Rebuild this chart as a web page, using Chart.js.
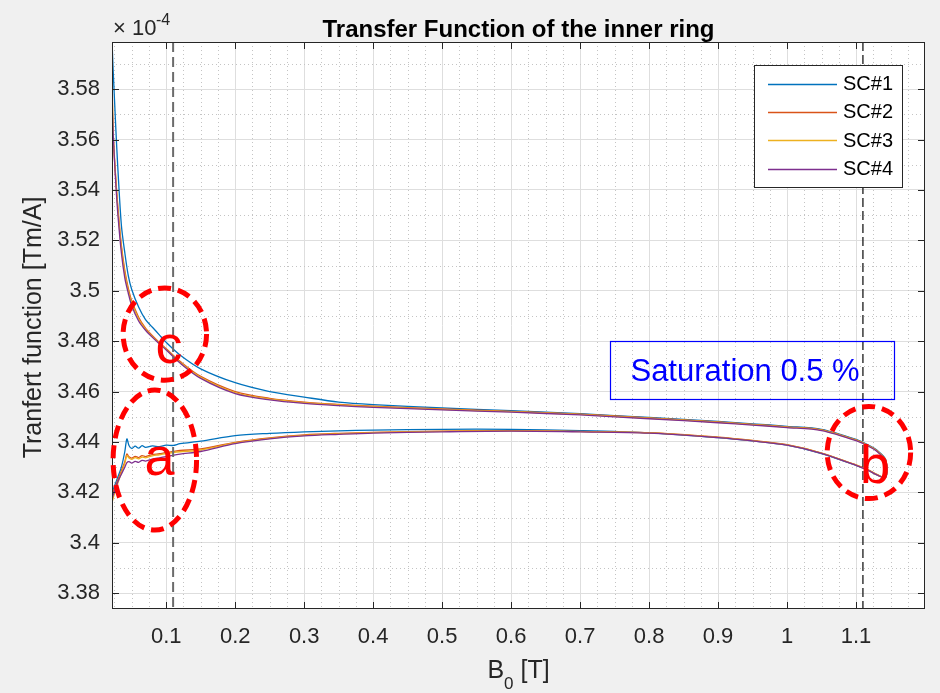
<!DOCTYPE html>
<html><head><meta charset="utf-8">
<script src="https://cdn.jsdelivr.net/npm/chart.js@4.4.1/dist/chart.umd.min.js"></script>
<style>html,body{margin:0;padding:0;background:#f0f0f0;overflow:hidden}</style>
</head><body>
<canvas id="c" width="940" height="693"></canvas>
<script>
// ---------- data (values in units of 1e-4 Tm/A) ----------
const seriesNames  = ['SC#1', 'SC#2', 'SC#3', 'SC#4'];
const seriesColors = ['#0072BD', '#D95319', '#EDB120', '#7E2F8E'];

const xTickValues = [0.1, 0.2, 0.3, 0.4, 0.5, 0.6, 0.7, 0.8, 0.9, 1.0, 1.1];
const yTickValues = [3.38, 3.40, 3.42, 3.44, 3.46, 3.48, 3.50, 3.52, 3.54, 3.56, 3.58];

// ramp-up (lower branch) field values [T]
const xRampUp = [0.0215, 0.025, 0.03, 0.035, 0.04, 0.043, 0.046, 0.05, 0.055, 0.06, 0.065, 0.07, 0.08, 0.09, 0.1, 0.11, 0.12, 0.15, 0.2, 0.25, 0.3, 0.35, 0.4, 0.5, 0.6, 0.7, 0.8, 0.9, 0.95, 1.0, 1.05, 1.1, 1.12, 1.13, 1.143];
// ramp-down (upper branch) field values [T]
const xRampDown = [1.143, 1.13, 1.12, 1.1, 1.05, 1.0, 0.95, 0.9, 0.8, 0.7, 0.6, 0.5, 0.4, 0.35, 0.3, 0.25, 0.2, 0.15, 0.12, 0.1, 0.09, 0.08, 0.07, 0.06, 0.05, 0.045, 0.04, 0.035, 0.03, 0.027, 0.025, 0.023, 0.0215];

const sc1Up = [3.4200, 3.4225, 3.4262, 3.4300, 3.4362, 3.4412, 3.4386, 3.4374, 3.4383, 3.4375, 3.4385, 3.4378, 3.4384, 3.4381, 3.4387, 3.4386, 3.4393, 3.4403, 3.4425, 3.4434, 3.4440, 3.4444, 3.4447, 3.4450, 3.4450, 3.4445, 3.4436, 3.4417, 3.4404, 3.4387, 3.4354, 3.4307, 3.4284, 3.4270, 3.4259];
const sc2Up = [3.4185, 3.4215, 3.4250, 3.4285, 3.4322, 3.4352, 3.4341, 3.4336, 3.4343, 3.4338, 3.4346, 3.4342, 3.4350, 3.4353, 3.4358, 3.4362, 3.4366, 3.4372, 3.4398, 3.4416, 3.4428, 3.4434, 3.4438, 3.4443, 3.4445, 3.4442, 3.4437, 3.4419, 3.4406, 3.4389, 3.4356, 3.4309, 3.4286, 3.4271, 3.4261];
const sc3Up = [3.4160, 3.4195, 3.4238, 3.4278, 3.4315, 3.4346, 3.4336, 3.4331, 3.4338, 3.4333, 3.4340, 3.4337, 3.4345, 3.4349, 3.4354, 3.4358, 3.4361, 3.4368, 3.4396, 3.4414, 3.4426, 3.4432, 3.4437, 3.4442, 3.4444, 3.4441, 3.4436, 3.4418, 3.4405, 3.4388, 3.4356, 3.4308, 3.4285, 3.4270, 3.4260];
const sc4Up = [3.4175, 3.4205, 3.4243, 3.4272, 3.4300, 3.4318, 3.4322, 3.4316, 3.4323, 3.4319, 3.4327, 3.4324, 3.4332, 3.4337, 3.4342, 3.4347, 3.4352, 3.4362, 3.4393, 3.4412, 3.4424, 3.4430, 3.4435, 3.4440, 3.4443, 3.4440, 3.4435, 3.4417, 3.4404, 3.4387, 3.4355, 3.4307, 3.4284, 3.4269, 3.4259];

const sc1Down = [3.4330, 3.4368, 3.4385, 3.4410, 3.4450, 3.4462, 3.4472, 3.4481, 3.4497, 3.4512, 3.4524, 3.4535, 3.4548, 3.4558, 3.4578, 3.4600, 3.4635, 3.4690, 3.4745, 3.4795, 3.4825, 3.4855, 3.4885, 3.4935, 3.5005, 3.5060, 3.5150, 3.5260, 3.5480, 3.5640, 3.5760, 3.5880, 3.5987];
const sc2Down = [3.4328, 3.4366, 3.4383, 3.4408, 3.4448, 3.4460, 3.4470, 3.4479, 3.4495, 3.4510, 3.4521, 3.4531, 3.4542, 3.4549, 3.4558, 3.4573, 3.4600, 3.4660, 3.4720, 3.4770, 3.4795, 3.4822, 3.4852, 3.4895, 3.4960, 3.5010, 3.5080, 3.5180, 3.5330, 3.5440, 3.5520, 3.5620, 3.5860];
const sc3Down = [3.4327, 3.4365, 3.4382, 3.4407, 3.4447, 3.4459, 3.4469, 3.4478, 3.4494, 3.4509, 3.4520, 3.4529, 3.4540, 3.4547, 3.4556, 3.4570, 3.4596, 3.4656, 3.4716, 3.4767, 3.4792, 3.4818, 3.4848, 3.4888, 3.4952, 3.5000, 3.5070, 3.5170, 3.5320, 3.5440, 3.5530, 3.5640, 3.5796];
const sc4Down = [3.4325, 3.4363, 3.4380, 3.4405, 3.4445, 3.4457, 3.4467, 3.4476, 3.4492, 3.4507, 3.4518, 3.4527, 3.4537, 3.4544, 3.4553, 3.4567, 3.4592, 3.4652, 3.4713, 3.4765, 3.4790, 3.4815, 3.4843, 3.4880, 3.4940, 3.4990, 3.5050, 3.5150, 3.5300, 3.5420, 3.5520, 3.5630, 3.5744];

const seriesUp   = [sc1Up, sc2Up, sc3Up, sc4Up];
const seriesDown = [sc1Down, sc2Down, sc3Down, sc4Down];

// reference lines and annotations (data units)
const refLines = [0.11, 1.11];
const markers = [
  {letter: 'c', cx: 0.098, cy: 3.4828, rx: 0.0605, ry: 0.0183, tx: 0.104, ty: 3.4713},
  {letter: 'a', cx: 0.0835, cy: 3.4328, rx: 0.0605, ry: 0.0278, tx: 0.0903, ty: 3.4268},
  {letter: 'b', cx: 1.1187, cy: 3.4358, rx: 0.0605, ry: 0.0183, tx: 1.1276, ty: 3.4237}
];
const noteText = 'Saturation 0.5 %';
const noteBox = {x0: 0.744, x1: 1.1558, y0: 3.457, y1: 3.48};

const FONT = "'Liberation Sans', Arial, Helvetica, sans-serif";
const TXT = '#262626';

// ---------- datasets ----------
const datasets = seriesNames.map((name, k) => ({
  label: name,
  data: xRampUp.map((x, i) => ({x: x, y: seriesUp[k][i]}))
        .concat(xRampDown.map((x, i) => ({x: x, y: seriesDown[k][i]}))),
  borderColor: seriesColors[k],
  backgroundColor: seriesColors[k],
  borderWidth: 1.3,
  showLine: true,
  pointRadius: 0,
  tension: 0.3,
  order: 4 - k
}));

const fmt = v => String(Number(v.toFixed(2)));

const decor = {
  id: 'decor',
  beforeDraw(chart) {
    const {ctx, chartArea: a} = chart;
    ctx.save();
    ctx.fillStyle = '#f0f0f0';
    ctx.fillRect(0, 0, chart.width, chart.height);
    ctx.fillStyle = '#ffffff';
    ctx.fillRect(a.left, a.top, a.right - a.left, a.bottom - a.top);
    ctx.restore();
  },
  beforeDatasetsDraw(chart) {
    const {ctx, chartArea: a, scales: {x, y}} = chart;
    ctx.save();
    ctx.beginPath(); ctx.rect(a.left, a.top, a.right - a.left, a.bottom - a.top); ctx.clip();
    ctx.strokeStyle = '#c4c4c4';
    ctx.lineWidth = 1;
    ctx.setLineDash([1, 3]);
    for (let v = 0.025; v < x.max; v += 0.025) {
      if (Math.abs(v * 10 - Math.round(v * 10)) < 1e-6) continue;
      const p = Math.round(x.getPixelForValue(v)) + 0.5;
      ctx.beginPath(); ctx.moveTo(p, a.top); ctx.lineTo(p, a.bottom); ctx.stroke();
    }
    for (let v = 3.37; v < y.max; v += 0.02) {
      const p = Math.round(y.getPixelForValue(v)) + 0.5;
      ctx.beginPath(); ctx.moveTo(a.left, p); ctx.lineTo(a.right, p); ctx.stroke();
    }
    ctx.restore();
  },
  afterDatasetsDraw(chart) {
    const {ctx, chartArea: a, scales: {x, y}} = chart;
    ctx.save();
    // reference dashed lines
    refLines.forEach((v, i) => {
      const p = x.getPixelForValue(v);
      ctx.beginPath();
      ctx.setLineDash(i === 0 ? [10, 5] : [9, 4]);
      ctx.strokeStyle = i === 0 ? '#6b6b6b' : '#2b2b2b';
      ctx.lineWidth = i === 0 ? 2 : 1.4;
      ctx.moveTo(p, a.top); ctx.lineTo(p, a.bottom); ctx.stroke();
    });
    ctx.setLineDash([]);
    // axes box
    ctx.strokeStyle = TXT; ctx.lineWidth = 1;
    ctx.strokeRect(a.left + 0.5, a.top + 0.5, a.right - a.left - 1, a.bottom - a.top - 1);
    // inward ticks
    const tl = 7;
    ctx.beginPath();
    xTickValues.forEach(v => {
      const p = Math.round(x.getPixelForValue(v)) + 0.5;
      ctx.moveTo(p, a.bottom); ctx.lineTo(p, a.bottom - tl);
      ctx.moveTo(p, a.top); ctx.lineTo(p, a.top + tl);
    });
    yTickValues.forEach(v => {
      const p = Math.round(y.getPixelForValue(v)) + 0.5;
      ctx.moveTo(a.left, p); ctx.lineTo(a.left + tl, p);
      ctx.moveTo(a.right, p); ctx.lineTo(a.right - tl, p);
    });
    ctx.stroke();

    // annotation box
    const bx0 = x.getPixelForValue(noteBox.x0), bx1 = x.getPixelForValue(noteBox.x1);
    const by0 = y.getPixelForValue(noteBox.y1), by1 = y.getPixelForValue(noteBox.y0);
    ctx.strokeStyle = '#0000ff'; ctx.lineWidth = 1.2;
    ctx.strokeRect(Math.round(bx0) + 0.5, Math.round(by0) + 0.5, Math.round(bx1 - bx0), Math.round(by1 - by0));
    ctx.fillStyle = '#0000ff';
    ctx.font = '31px ' + FONT;
    ctx.textAlign = 'left'; ctx.textBaseline = 'alphabetic';
    ctx.fillText(noteText, bx0 + 20, by0 + 40);

    // red dashed ellipses + letters
    markers.forEach(m => {
      const cx = x.getPixelForValue(m.cx), cy = y.getPixelForValue(m.cy);
      const rx = Math.abs(x.getPixelForValue(m.cx + m.rx) - cx);
      const ry = Math.abs(y.getPixelForValue(m.cy + m.ry) - cy);
      ctx.beginPath();
      ctx.setLineDash([13, 7]);
      ctx.strokeStyle = '#ff0000'; ctx.lineWidth = 5;
      ctx.ellipse(cx, cy, rx, ry, 0, 0, Math.PI * 2);
      ctx.stroke();
      ctx.setLineDash([]);
      ctx.fillStyle = '#ff0000';
      ctx.font = '54px ' + FONT;
      ctx.textAlign = 'center'; ctx.textBaseline = 'alphabetic';
      ctx.fillText(m.letter, x.getPixelForValue(m.tx), y.getPixelForValue(m.ty));
    });

    // legend
    const lw = 148, lh = 122;
    const lx = a.right - 23 - lw, ly = a.top + 23;
    ctx.fillStyle = '#ffffff';
    ctx.fillRect(lx, ly, lw, lh);
    ctx.strokeStyle = TXT; ctx.lineWidth = 1;
    ctx.strokeRect(Math.round(lx) + 0.5, Math.round(ly) + 0.5, lw, lh);
    ctx.font = '20px ' + FONT;
    ctx.textAlign = 'left'; ctx.textBaseline = 'middle';
    chart.data.datasets.forEach((ds, i) => {
      const ry = ly + 18.5 + i * 28.4;
      ctx.strokeStyle = ds.borderColor; ctx.lineWidth = 1.5;
      ctx.beginPath(); ctx.moveTo(lx + 14, Math.round(ry) + 0.5); ctx.lineTo(lx + 83, Math.round(ry) + 0.5); ctx.stroke();
      ctx.fillStyle = '#000000';
      ctx.fillText(ds.label, lx + 89, ry + 1);
    });

    // exponent label
    ctx.fillStyle = TXT;
    ctx.textAlign = 'left'; ctx.textBaseline = 'alphabetic';
    ctx.font = '22px ' + FONT;
    ctx.fillText('\u00d7', a.left + 1, a.top - 7);
    ctx.fillText('10', a.left + 20, a.top - 7);
    ctx.font = '16px ' + FONT;
    ctx.fillText('-4', a.left + 44, a.top - 17);

    // x axis title  B0 [T]
    const xc = (a.left + a.right) / 2;
    ctx.font = '25px ' + FONT;
    const wB = ctx.measureText('B').width;
    ctx.font = '17px ' + FONT;
    const w0 = ctx.measureText('0').width;
    ctx.font = '25px ' + FONT;
    const wT = ctx.measureText(' [T]').width;
    let sx = xc - (wB + w0 + wT) / 2;
    ctx.fillText('B', sx, 678);
    ctx.font = '17px ' + FONT;
    ctx.fillText('0', sx + wB, 689);
    ctx.font = '25px ' + FONT;
    ctx.fillText(' [T]', sx + wB + w0, 678);

    // y axis title
    ctx.save();
    ctx.translate(34, (a.top + a.bottom) / 2 + 2);
    ctx.rotate(-Math.PI / 2);
    ctx.textAlign = 'center'; ctx.textBaseline = 'middle';
    ctx.font = '25px ' + FONT;
    ctx.fillText('Tranfert function [Tm/A]', 0, 0);
    ctx.restore();

    ctx.restore();
  }
};

new Chart(document.getElementById('c'), {
  type: 'scatter',
  data: {datasets},
  options: {
    responsive: false,
    animation: false,
    devicePixelRatio: 1,
    layout: {padding: {left: 0, right: 15, top: 0, bottom: 0}},
    plugins: {
      legend: {display: false},
      tooltip: {enabled: false},
      title: {
        display: true,
        text: 'Transfer Function of the inner ring',
        fullSize: false,
        color: '#000000',
        font: {family: FONT, size: 24, weight: 'bold', lineHeight: 1},
        padding: {top: 18, bottom: 0}
      }
    },
    scales: {
      x: {
        type: 'linear',
        min: 0.0214, max: 1.2,
        afterBuildTicks: s => { s.ticks = xTickValues.map(v => ({value: v})); },
        afterFit: s => { s.height = 84; },
        ticks: {color: TXT, font: {family: FONT, size: 22}, padding: 15, callback: v => fmt(v), autoSkip: false, maxRotation: 0},
        grid: {color: '#dedede', lineWidth: 1, drawTicks: false},
        border: {display: false}
      },
      y: {
        type: 'linear',
        min: 3.3737, max: 3.5987,
        afterBuildTicks: s => { s.ticks = yTickValues.map(v => ({value: v})); },
        afterFit: s => { s.width = 112; },
        ticks: {color: TXT, font: {family: FONT, size: 22}, padding: 12, callback: v => fmt(v), autoSkip: false},
        grid: {color: '#dedede', lineWidth: 1, drawTicks: false},
        border: {display: false}
      }
    }
  },
  plugins: [decor]
});
</script>
</body></html>
